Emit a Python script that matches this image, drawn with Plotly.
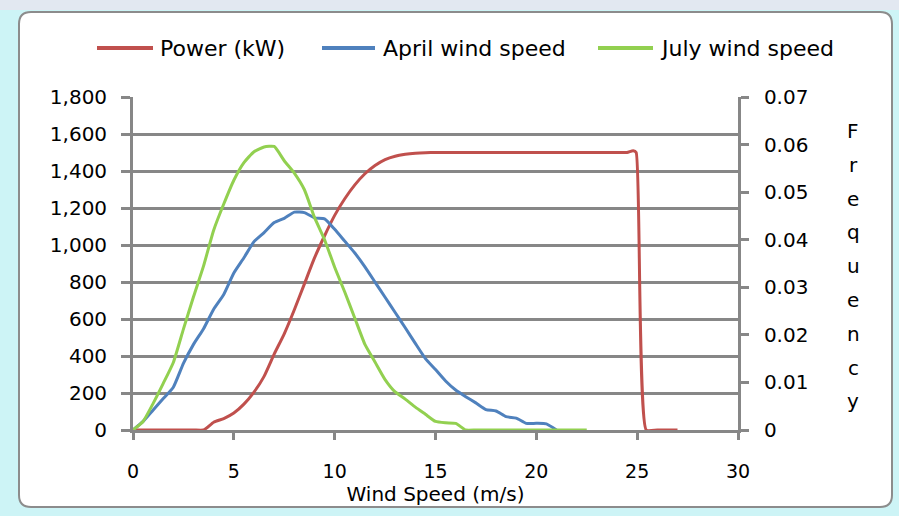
import plotly.graph_objects as go

# ---- data -------------------------------------------------------------
power_ws = [0, 1, 2, 3, 3.5, 4, 4.5, 5, 5.5, 6, 6.5, 7, 7.5, 8, 8.5, 9, 9.5,
            10, 10.5, 11, 11.5, 12, 12.5, 13, 13.5, 14, 14.5, 15, 16, 17, 18,
            19, 20, 21, 22, 23, 24, 24.5, 24.8, 24.95, 25.45, 26, 27]
power_kw = [0, 0, 0, 0, 0, 42, 62, 92, 140, 205, 290, 410, 520, 650, 790, 930,
            1050, 1160, 1250, 1325, 1385, 1430, 1462, 1480, 1490, 1496, 1499,
            1500, 1500, 1500, 1500, 1500, 1500, 1500, 1500, 1500, 1500, 1500,
            1510, 1500, 0, 0, 0]

april_ws = [0, 0.5, 1, 1.5, 2, 2.5, 3, 3.5, 4, 4.5, 5, 5.5, 6, 6.5, 7, 7.5,
            8, 8.5, 9, 9.5, 10, 10.5, 11, 11.5, 12, 12.5, 13, 13.5, 14, 14.5,
            15, 15.5, 16, 16.5, 17, 17.5, 18, 18.5, 19, 19.5, 20, 20.5, 21]
april_freq = [0, 0.0018, 0.0042, 0.0066, 0.0090, 0.0140, 0.0180, 0.0213,
              0.0254, 0.0285, 0.0330, 0.0362, 0.0396, 0.0415, 0.0436, 0.0445,
              0.0458, 0.0457, 0.0446, 0.0444, 0.0422, 0.0397, 0.0372, 0.0343,
              0.0311, 0.0279, 0.0247, 0.0215, 0.0182, 0.0150, 0.0127, 0.0103,
              0.0084, 0.0070, 0.0057, 0.0043, 0.0040, 0.0028, 0.0025, 0.0014,
              0.0014, 0.0013, 0]

july_ws = [0, 0.5, 1, 1.5, 2, 2.5, 3, 3.5, 4, 4.5, 5, 5.5, 6, 6.5, 7, 7.5,
           8, 8.5, 9, 9.5, 10, 10.5, 11, 11.5, 12, 12.5, 13, 13.5, 14, 14.5,
           15, 15.5, 16, 16.5, 17, 17.5, 18, 18.5, 19, 19.5, 20, 20.5, 21,
           21.5, 22, 22.5]
july_freq = [0, 0.0018, 0.0056, 0.0098, 0.0142, 0.0212, 0.0280, 0.0345,
             0.0420, 0.0475, 0.0525, 0.0562, 0.0585, 0.0595, 0.0596, 0.0566,
             0.0540, 0.0505, 0.0447, 0.0400, 0.0342, 0.0290, 0.0235, 0.0180,
             0.0143, 0.0106, 0.0080, 0.0065, 0.0048, 0.0033, 0.0018, 0.0015,
             0.0014, 0, 0, 0, 0, 0, 0, 0, 0, 0, 0, 0, 0, 0]

x_ticks = [0, 5, 10, 15, 20, 25, 30]
power_ticks = [0, 200, 400, 600, 800, 1000, 1200, 1400, 1600, 1800]
freq_ticks = [0, 0.01, 0.02, 0.03, 0.04, 0.05, 0.06, 0.07]

series = [
    ("Power (kW)", "#C0504D"),
    ("April wind speed", "#4F81BD"),
    ("July wind speed", "#92D050"),
]

# ---- page geometry ----------------------------------------------------
W, H = 899, 516
ML, MR, MT, MB = 133, 161, 97, 86
PW, PH = W - ML - MR, H - MT - MB
FONT = "DejaVu Sans"
GRID = "#878787"


def px(x):
    return (x - ML) / PW


def py(y):
    return (H - MB - y) / PH


fig = go.Figure()

line_style = dict(width=3, shape="spline", smoothing=0.5)
fig.add_trace(go.Scatter(x=power_ws, y=power_kw, mode="lines", name=series[0][0],
                         line=dict(color=series[0][1], **line_style),
                         yaxis="y", showlegend=False))
fig.add_trace(go.Scatter(x=april_ws, y=april_freq, mode="lines", name=series[1][0],
                         line=dict(color=series[1][1], **line_style),
                         yaxis="y2", showlegend=False))
fig.add_trace(go.Scatter(x=july_ws, y=july_freq, mode="lines", name=series[2][0],
                         line=dict(color=series[2][1], **line_style),
                         yaxis="y2", showlegend=False))

shapes = []
annotations = []

# outer rounded frame of the chart
x0, x1, y0, y1, r = 19, 892, 12, 507, 12
rx, ry = r / PW, r / PH
frame_path = (
    f"M {px(x0)+rx},{py(y0)} L {px(x1)-rx},{py(y0)} "
    f"Q {px(x1)},{py(y0)} {px(x1)},{py(y0)-ry} "
    f"L {px(x1)},{py(y1)+ry} Q {px(x1)},{py(y1)} {px(x1)-rx},{py(y1)} "
    f"L {px(x0)+rx},{py(y1)} Q {px(x0)},{py(y1)} {px(x0)},{py(y1)+ry} "
    f"L {px(x0)},{py(y0)-ry} Q {px(x0)},{py(y0)} {px(x0)+rx},{py(y0)} Z"
)
shapes.append(dict(type="rect", xref="paper", yref="paper",
                   x0=px(0), x1=px(W), y0=py(0), y1=py(10),
                   fillcolor="#e2e8f1", line=dict(width=0), layer="below"))
shapes.append(dict(type="path", xref="paper", yref="paper", path=frame_path,
                   fillcolor="white", line=dict(color="#8c8c8c", width=2),
                   layer="below"))

# legend drawn as line samples + labels
legend_y = py(48)
legend_items = [(97, 153, 158), (322, 375, 381), (598, 653, 658)]
for (name, color), (lx0, lx1, tx) in zip(series, legend_items):
    shapes.append(dict(type="line", xref="paper", yref="paper",
                       x0=px(lx0), x1=px(lx1), y0=legend_y, y1=legend_y,
                       line=dict(color=color, width=4)))
    annotations.append(dict(text=name, xref="paper", yref="paper",
                            x=px(tx), y=legend_y, xanchor="left",
                            yanchor="middle", showarrow=False,
                            font=dict(family=FONT, size=22, color="black")))

# vertical stacked title of the secondary axis
title_letters = list("Frequency")
for i, ch in enumerate(title_letters):
    annotations.append(dict(text=ch, xref="paper", yref="paper",
                            x=px(853), y=py(131 + i * 33.8),
                            xanchor="center", yanchor="middle",
                            showarrow=False,
                            font=dict(family=FONT, size=20, color="black")))

fig.update_layout(
    width=W, height=H,
    margin=dict(l=ML, r=MR, t=MT, b=MB, pad=0),
    paper_bgcolor="#cdf4f6",
    plot_bgcolor="rgba(0,0,0,0)",
    font=dict(family=FONT, size=20, color="black"),
    showlegend=False,
    shapes=shapes,
    annotations=annotations,
    xaxis=dict(
        range=[0, 30], tickvals=x_ticks, ticks="outside", ticklen=7,
        tickwidth=2.8, tickcolor=GRID, showgrid=False, zeroline=False,
        showline=True, linecolor=GRID, linewidth=2.8,
        ticklabelstandoff=15, tickfont=dict(size=19),
        title=dict(text="Wind Speed (m/s)", font=dict(size=20), standoff=0),
    ),
    yaxis=dict(
        range=[0, 1800], tickvals=power_ticks, tickformat=",",
        ticks="outside", ticklen=9, tickwidth=2.8, tickcolor=GRID,
        showgrid=True, gridcolor=GRID, gridwidth=2.8, zeroline=False,
        showline=True, linecolor=GRID, linewidth=2.8,
        ticklabelstandoff=10, tickfont=dict(size=20),
    ),
    yaxis2=dict(
        range=[0, 0.07], tickvals=freq_ticks, overlaying="y", side="right",
        ticks="outside", ticklen=8, tickwidth=2.8, tickcolor=GRID,
        showgrid=False, zeroline=False, showline=True, linecolor=GRID,
        linewidth=2.8, ticklabelstandoff=11, tickfont=dict(size=20),
    ),
)

fig.write_html("out.html")
